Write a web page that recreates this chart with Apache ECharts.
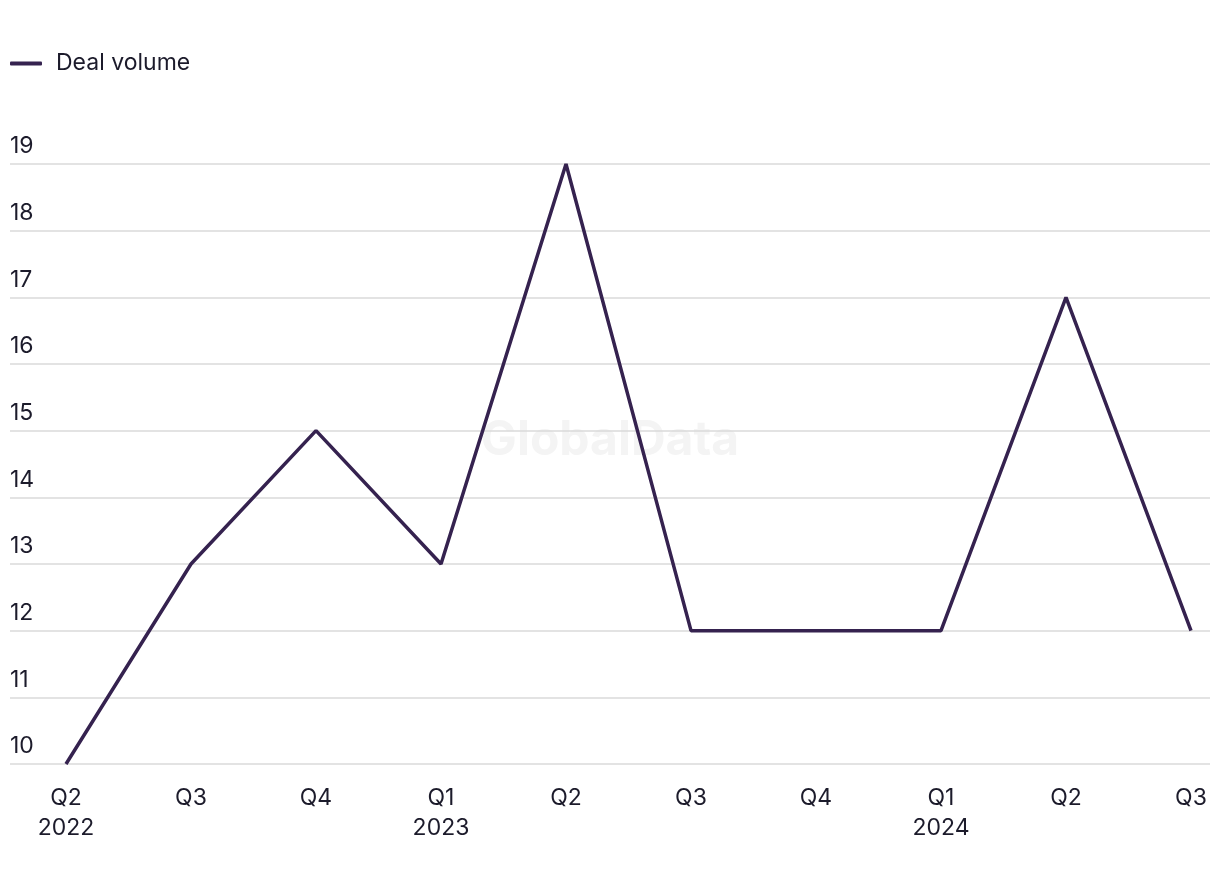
<!DOCTYPE html>
<html><head><meta charset="utf-8">
<script src="https://cdn.jsdelivr.net/npm/echarts@6/dist/echarts.min.js"></script>
<style>html,body{margin:0;padding:0;background:#fff}#c{width:1220px;height:884px}</style>
</head><body><div id="c"></div>
<script>
const categories = ['Q2\n2022','Q3','Q4','Q1\n2023','Q2','Q3','Q4','Q1\n2024','Q2','Q3'];
const dealVolume = [10, 13, 15, 13, 19, 12, 12, 12, 17, 12];
const yMin = 10, yMax = 19, yInterval = 1;

const FONT = 'Inter, "Liberation Sans", sans-serif';
const TXT = '#1c1b2b';
const LINE = '#35224f';
const chart = echarts.init(document.getElementById('c'), null, {renderer:'canvas'});
chart.setOption({
  animation:false,
  backgroundColor:'#fff',
  textStyle:{fontFamily:FONT},
  legend:{
    left:5, top:47, itemWidth:32, itemHeight:4, itemGap:20,
    icon:'roundRect',
    textStyle:{fontSize:23, color:TXT, fontFamily:FONT, padding:[0,0,0,9]},
    data:['Deal volume']
  },
  graphic:[{
    type:'text', left:'center', top:417, z:0, silent:true,
    style:{text:'GlobalData', fontSize:48, fontWeight:'bold', fill:'#f4f4f4', fontFamily:FONT}
  }],
  grid:[
    {left:10, right:10, top:164, bottom:120},
    {left:66, right:29, top:164, bottom:120}
  ],
  xAxis:[
    {gridIndex:0, type:'value', min:0, max:1, show:false},
    {gridIndex:1, type:'category', data:categories, boundaryGap:false,
     axisLine:{show:false}, axisTick:{show:false}, splitLine:{show:false},
     axisLabel:{fontSize:23, color:TXT, margin:19, lineHeight:30, fontFamily:FONT, interval:0}}
  ],
  yAxis:[
    {gridIndex:0, type:'value', min:yMin, max:yMax, interval:yInterval,
     axisLine:{show:false}, axisTick:{show:false},
     splitLine:{lineStyle:{color:'#dadada', width:1.5}},
     axisLabel:{inside:true, margin:0, fontSize:23, color:TXT, verticalAlign:'bottom', padding:[0,0,6,0], fontFamily:FONT}},
    {gridIndex:1, type:'value', min:yMin, max:yMax, interval:yInterval, show:false}
  ],
  series:[{
    name:'Deal volume', type:'line', xAxisIndex:1, yAxisIndex:1,
    data:dealVolume, showSymbol:false, symbol:'none',
    lineStyle:{color:LINE, width:3.5}, itemStyle:{color:LINE}, z:5
  }]
});
</script></body></html>
